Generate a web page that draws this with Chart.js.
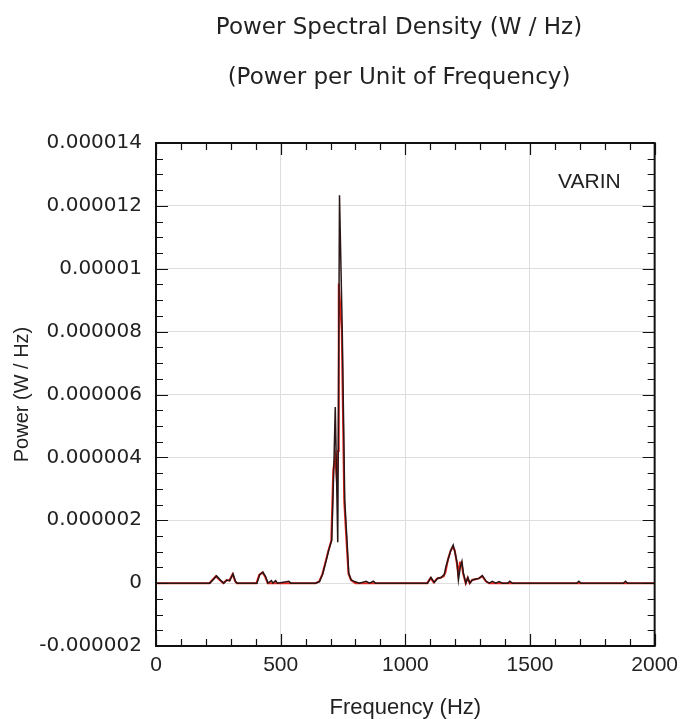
<!DOCTYPE html>
<html>
<head>
<meta charset="utf-8">
<title>Power Spectral Density</title>
<script src="https://cdn.jsdelivr.net/npm/chart.js@4.4.0/dist/chart.umd.min.js"></script>
<style>
  html, body { margin: 0; padding: 0; background: #fff; }
  #wrap { width: 685px; height: 719px; }
</style>
</head>
<body>
<div id="wrap"><canvas id="psdChart" width="685" height="719"></canvas></div>
<script>
// frequencies (Hz) and power (W/Hz)
const blackFreq = [0, 216, 243, 260, 272, 285, 296, 309, 319, 325, 405, 416, 429, 440, 449, 463, 469, 480, 487, 533, 540,
  640, 656, 669, 683, 693, 705, 713, 719, 729, 736, 747, 757, 766, 773, 783, 796, 816, 843, 856, 872, 880,
  1089, 1103, 1116, 1129, 1143, 1156, 1163, 1173, 1183, 1192, 1200, 1208, 1213, 1221, 1227, 1233, 1243, 1251, 1259,
  1269, 1283, 1296, 1309, 1325, 1336, 1349, 1363, 1376, 1389, 1412, 1419, 1429, 1688, 1696, 1704, 1875, 1883, 1891, 2000];
const blackPower = [0, 0, 2.3e-7, 8e-8, 0, 1e-7, 8e-8, 3e-7, 5e-8, 0, 0, 2.7e-7, 3.5e-7, 2e-7, 0, 8e-8, 0, 8e-8, 0, 6e-8, 0,
  0, 5e-8, 3e-7, 7.3e-7, 1.05e-6, 1.37e-6, 3.6e-6, 5.6e-6, 1.3e-6, 1.234e-5, 8.05e-6, 2.64e-6, 1.37e-6, 3.2e-7, 1e-7, 5e-8, 0, 6e-8, 0, 6e-8, 0,
  0, 1.8e-7, 2e-8, 1.5e-7, 1.8e-7, 2.7e-7, 5.3e-7, 7.9e-7, 1.05e-6, 1.21e-6, 9.5e-7, 6.4e-7, 1e-7, 5.3e-7, 6.9e-7, 3.2e-7, 0, 1.8e-7, 0,
  1e-7, 1.3e-7, 1.5e-7, 2.4e-7, 5e-8, 0, 6e-8, 0, 5e-8, 0, 0, 6e-8, 0, 0, 6e-8, 0, 0, 6e-8, 0, 0];

const redFreq = [0, 214, 240, 258, 270, 283, 294, 307, 318, 324, 403, 414, 427, 438, 448,
  640, 654, 667, 681, 691, 703, 711, 719, 726, 730, 733, 745, 755, 764, 772, 782, 800,
  1088, 1101, 1114, 1128, 1141, 1154, 1161, 1171, 1181, 1190, 1198, 1206, 1212, 1219, 1225, 1232, 1242, 1250, 1258,
  1268, 1282, 1295, 1308, 1324, 1336, 2000];
const redPower = [0, 0, 2.2e-7, 8e-8, 0, 1e-7, 8e-8, 2.8e-7, 5e-8, 0, 0, 2.6e-7, 3.4e-7, 2e-7, 0,
  0, 5e-8, 2.8e-7, 7e-7, 1.02e-6, 1.35e-6, 3.6e-6, 4.0e-6, 3.2e-6, 4.2e-6, 9.53e-6, 8.05e-6, 2.6e-6, 1.35e-6, 3e-7, 1e-7, 0,
  0, 1.6e-7, 2e-8, 1.5e-7, 1.7e-7, 2.2e-7, 3.5e-7, 7.5e-7, 1.02e-6, 1.15e-6, 1.05e-6, 6.6e-7, 3e-7, 6.5e-7, 6.6e-7, 3e-7, 0, 1.7e-7, 0,
  1e-7, 1.2e-7, 1.5e-7, 2.2e-7, 5e-8, 0, 0];

const xTicks = [0, 500, 1000, 1500, 2000];
const yTicks = [-0.000002, 0, 0.000002, 0.000004, 0.000006, 0.000008, 0.00001, 0.000012, 0.000014];
const titleLines = ['Power Spectral Density (W / Hz)', '(Power per Unit of Frequency)'];

const toPoints = (xs, ys) => xs.map((x, i) => ({ x: x, y: ys[i] }));

// frame with inward ticks on all four sides, titles and the trace label
const framePlugin = {
  id: 'frame',
  afterDatasetsDraw(chart) {
    const ctx = chart.ctx;
    const a = chart.chartArea;
    const xs = chart.scales.x, ys = chart.scales.y;
    ctx.save();
    ctx.strokeStyle = '#111';
    ctx.lineWidth = 1.2;
    ctx.beginPath();
    for (let f = 0; f <= 2000; f += 100) {
      const px = Math.round(xs.getPixelForValue(f)) + 0.5;
      const len = f % 500 === 0 ? 12 : 7;
      ctx.moveTo(px, a.bottom); ctx.lineTo(px, a.bottom - len);
      ctx.moveTo(px, a.top); ctx.lineTo(px, a.top + len);
    }
    for (let k = -4; k <= 28; k++) {
      const py = Math.round(ys.getPixelForValue(k * 0.0000005)) + 0.5;
      const len = k % 4 === 0 ? 12 : 7;
      ctx.moveTo(a.left, py); ctx.lineTo(a.left + len, py);
      ctx.moveTo(a.right, py); ctx.lineTo(a.right - len, py);
    }
    ctx.stroke();
    ctx.lineWidth = 2;
    ctx.strokeRect(a.left, a.top, a.right - a.left, a.bottom - a.top);

    ctx.fillStyle = '#222';
    ctx.textBaseline = 'middle';
    ctx.font = '21px "Liberation Sans", Arial, sans-serif';
    ctx.textAlign = 'right';
    ctx.fillText('VARIN', a.right - 34, a.top + 39);

    ctx.font = '23px "DejaVu Sans", sans-serif';
    ctx.textAlign = 'center';
    ctx.fillText(titleLines[0], 399, 28);
    ctx.fillText(titleLines[1], 399, 78);
    ctx.restore();
  }
};

const ctx = document.getElementById('psdChart').getContext('2d');
const psdChart = new Chart(ctx, {
  type: 'line',
  data: {
    datasets: [
      {
        label: 'VARIN',
        data: toPoints(blackFreq, blackPower),
        borderColor: '#2a1616',
        borderWidth: 1.5,
        pointRadius: 0,
        tension: 0,
        order: 0
      },
      {
        label: 'VARIN (red)',
        data: toPoints(redFreq, redPower),
        borderColor: '#e8231c',
        borderWidth: 2,
        pointRadius: 0,
        tension: 0,
        order: 1
      }
    ]
  },
  options: {
    responsive: false,
    animation: false,
    layout: { padding: { left: 0, right: 29, top: 143, bottom: 0 } },
    plugins: {
      legend: { display: false },
      tooltip: { enabled: false },
      title: { display: false }
    },
    scales: {
      x: {
        type: 'linear',
        min: 0,
        max: 2000,
        afterBuildTicks: s => { s.ticks = xTicks.map(v => ({ value: v })); },
        afterFit: s => { s.height = 73; },
        grid: { color: '#dedede', drawTicks: false },
        border: { display: false },
        ticks: {
          padding: 7,
          color: '#222',
          maxRotation: 0,
          font: { family: '"Liberation Sans", Arial, sans-serif', size: 21 },
          callback: v => String(v)
        },
        title: {
          display: true,
          text: 'Frequency (Hz)',
          color: '#222',
          font: { family: '"Liberation Sans", Arial, sans-serif', size: 22, lineHeight: 1 },
          padding: { top: 1, bottom: 0 }
        }
      },
      y: {
        min: -0.000002,
        max: 0.000014,
        afterBuildTicks: s => { s.ticks = yTicks.map(v => ({ value: v })); },
        afterFit: s => { s.width = 156; },
        grid: { color: '#dedede', drawTicks: false },
        border: { display: false },
        ticks: {
          padding: 14,
          color: '#222',
          font: { family: '"DejaVu Sans", sans-serif', size: 20 },
          callback: v => (Math.abs(v) < 1e-12 ? '0' : String(Number(v.toFixed(6))))
        },
        title: {
          display: true,
          text: 'Power (W / Hz)',
          color: '#222',
          font: { family: '"Liberation Sans", Arial, sans-serif', size: 20, lineHeight: 1 },
          padding: { top: 12, bottom: 0 }
        }
      }
    }
  },
  plugins: [framePlugin]
});
</script>
</body>
</html>
